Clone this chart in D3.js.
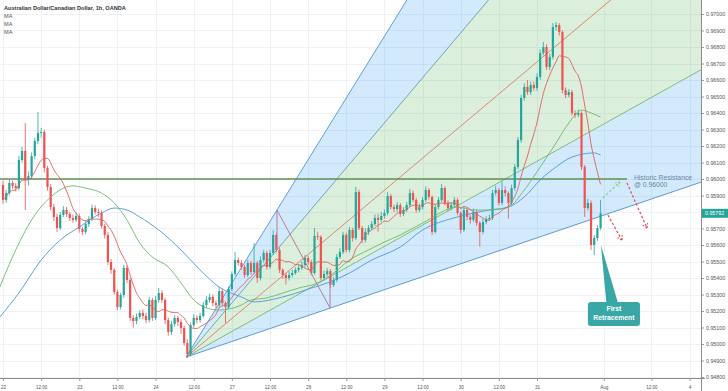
<!DOCTYPE html>
<html><head><meta charset="utf-8">
<script src="https://cdn.jsdelivr.net/npm/d3@7"></script>
<style>
html,body{margin:0;padding:0;background:#fff;}
svg{display:block;font-family:"Liberation Sans",Arial,sans-serif;}
</style></head><body>
<svg id="c" width="728" height="391"></svg>
<script>
// ---------- DATA ----------
const title = "Australian Dollar/Canadian Dollar, 1h, OANDA";
const legendItems = ["MA", "MA", "MA"];
const timeTickIdx = [0,12,24,36,48,60,72,84,96,108,120,132,144,156,168,189,204,216];
const timeTickLabels = ["22","12:00","23","12:00","24","12:00","27","12:00","28","12:00","29","12:00","30","12:00","31","Aug","12:00","4"];
const priceTicks = [0.948,0.949,0.950,0.951,0.952,0.953,0.954,0.955,0.956,0.957,0.958,0.959,0.960,0.961,0.962,0.963,0.964,0.965,0.966,0.967,0.968,0.969,0.970];
const firstOpen = 0.95964;
const close = [
0.95873,0.95915,0.95976,0.95958,0.95945,0.96115,0.96170,0.95994,0.96018,0.96139,
0.96230,0.96279,0.96285,0.96067,0.95952,0.95830,0.95770,0.95703,0.95782,0.95812,
0.95788,0.95764,0.95752,0.95776,0.95697,0.95679,0.95727,0.95758,0.95824,0.95800,
0.95794,0.95715,0.95661,0.95497,0.95449,0.95315,0.95224,0.95297,0.95461,0.95388,
0.95158,0.95139,0.95164,0.95188,0.95170,0.95145,0.95267,0.95158,0.95267,0.95309,
0.95267,0.95145,0.95073,0.95121,0.95158,0.95133,0.95097,0.95006,0.94940,0.95115,
0.95158,0.95145,0.95170,0.95236,0.95267,0.95285,0.95248,0.95236,0.95321,0.95248,
0.95224,0.95333,0.95424,0.95509,0.95491,0.95467,0.95418,0.95491,0.95436,0.95491,
0.95400,0.95509,0.95552,0.95467,0.95552,0.95661,0.95570,0.95449,0.95418,0.95400,
0.95418,0.95430,0.95449,0.95461,0.95479,0.95521,0.95497,0.95430,0.95655,0.95649,
0.95400,0.95424,0.95442,0.95358,0.95388,0.95527,0.95558,0.95661,0.95570,0.95691,
0.95642,0.95921,0.95703,0.95630,0.95679,0.95703,0.95727,0.95764,0.95752,0.95776,
0.95794,0.95897,0.95830,0.95818,0.95842,0.95788,0.95812,0.95842,0.95915,0.95873,
0.95812,0.95830,0.95873,0.95933,0.95891,0.95679,0.95830,0.95873,0.95945,0.95855,
0.95824,0.95842,0.95873,0.95794,0.95691,0.95812,0.95770,0.95752,0.95800,0.95733,
0.95679,0.95739,0.95758,0.95764,0.95915,0.95933,0.95855,0.95933,0.95915,0.95855,
0.95945,0.96073,0.96236,0.96491,0.96558,0.96527,0.96570,0.96551,0.96618,0.96764,
0.96800,0.96679,0.96739,0.96921,0.96933,0.96891,0.96539,0.96509,0.96527,0.96400,
0.96388,0.96400,0.96073,0.95824,0.95855,0.95600,0.95642,0.95703,0.95792
];
const high = [
0.95990,0.95935,0.95995,0.95990,0.95975,0.96140,0.96195,0.96339,0.96045,0.96160,
0.96250,0.96406,0.96310,0.96300,0.96080,0.95970,0.95850,0.95790,0.95800,0.95835,
0.95830,0.95800,0.95785,0.95795,0.95790,0.95710,0.95745,0.95775,0.95845,0.95840,
0.95820,0.95810,0.95730,0.95680,0.95515,0.95460,0.95330,0.95310,0.95480,0.95475,
0.95400,0.95175,0.95185,0.95205,0.95210,0.95190,0.95285,0.95280,0.95290,0.95340,
0.95325,0.95280,0.95160,0.95140,0.95175,0.95170,0.95150,0.95110,0.95030,0.95130,
0.95180,0.95175,0.95190,0.95255,0.95290,0.95305,0.95300,0.95265,0.95345,0.95335,
0.95260,0.95350,0.95440,0.95558,0.95525,0.95510,0.95480,0.95510,0.95505,0.95612,
0.95505,0.95530,0.95570,0.95565,0.95570,0.95690,0.95675,0.95585,0.95460,0.95430,
0.95440,0.95450,0.95465,0.95480,0.95500,0.95540,0.95535,0.95510,0.95703,0.95680,
0.95660,0.95445,0.95460,0.95455,0.95405,0.95545,0.95580,0.95680,0.95675,0.95710,
0.95705,0.95952,0.95935,0.95715,0.95700,0.95720,0.95745,0.95785,0.95790,0.95800,
0.95815,0.95920,0.95910,0.95845,0.95860,0.95855,0.95830,0.95860,0.95940,0.95930,
0.95885,0.95850,0.95890,0.95955,0.95945,0.95900,0.95845,0.95890,0.95970,0.95955,
0.95870,0.95860,0.95890,0.95885,0.95805,0.95830,0.95825,0.95785,0.95820,0.95815,
0.95745,0.95760,0.95775,0.95785,0.95935,0.95960,0.95945,0.95985,0.95955,0.95925,
0.95965,0.96090,0.96255,0.96510,0.96580,0.96600,0.96590,0.96590,0.96640,0.96785,
0.96830,0.96815,0.96760,0.96945,0.96952,0.96945,0.96900,0.96555,0.96545,0.96540,
0.96415,0.96420,0.96410,0.96085,0.95880,0.95870,0.95660,0.95720,0.95873
];
const low = [
0.95850,0.95855,0.95900,0.95940,0.95925,0.95930,0.96100,0.95812,0.95960,0.96000,
0.96120,0.96210,0.96250,0.96040,0.95930,0.95810,0.95745,0.95680,0.95690,0.95770,
0.95770,0.95745,0.95735,0.95740,0.95675,0.95660,0.95665,0.95710,0.95745,0.95785,
0.95770,0.95700,0.95640,0.95480,0.95425,0.95300,0.95205,0.95210,0.95280,0.95370,
0.95140,0.95100,0.95120,0.95150,0.95150,0.95125,0.95130,0.95140,0.95145,0.95250,
0.95250,0.95120,0.95050,0.95055,0.95105,0.95110,0.95060,0.94990,0.94915,0.94925,
0.95100,0.95125,0.95130,0.95160,0.95220,0.95250,0.95230,0.95215,0.95220,0.95230,
0.95127,0.95210,0.95320,0.95410,0.95475,0.95450,0.95400,0.95405,0.95420,0.95425,
0.95370,0.95385,0.95495,0.95450,0.95455,0.95540,0.95555,0.95430,0.95395,0.95360,
0.95385,0.95405,0.95420,0.95435,0.95450,0.95465,0.95480,0.95415,0.95420,0.95630,
0.95385,0.95385,0.95410,0.95340,0.95345,0.95375,0.95515,0.95545,0.95555,0.95555,
0.95620,0.95630,0.95690,0.95610,0.95615,0.95660,0.95690,0.95715,0.95680,0.95740,
0.95760,0.95780,0.95815,0.95800,0.95800,0.95770,0.95775,0.95800,0.95830,0.95860,
0.95795,0.95800,0.95815,0.95860,0.95875,0.95660,0.95670,0.95815,0.95860,0.95840,
0.95805,0.95810,0.95830,0.95780,0.95670,0.95680,0.95750,0.95730,0.95740,0.95715,
0.95590,0.95665,0.95725,0.95745,0.95750,0.95900,0.95840,0.95840,0.95895,0.95760,
0.95840,0.95930,0.96060,0.96220,0.96475,0.96510,0.96510,0.96535,0.96535,0.96600,
0.96750,0.96660,0.96660,0.96725,0.96900,0.96870,0.96520,0.96490,0.96495,0.96385,
0.96370,0.96375,0.96055,0.95770,0.95810,0.95570,0.95539,0.95625,0.95690
];
const maFastPeriod = 10;
const maMidIdx = [-1,4,9,15,20,22,26,31,35,39,43,47,52,56,60,64,68,75,78,83,88,93,99,104,109,115,120,125,132,143,148,153,159,164,169,174,178,182,185,188];
const maMidVal = [0.95345,0.95570,0.95752,0.95891,0.95952,0.95958,0.95945,0.95915,0.95855,0.95752,0.95612,0.95527,0.95467,0.95370,0.95267,0.95218,0.95206,0.95236,0.95267,0.95279,0.95309,0.95339,0.95370,0.95430,0.95509,0.95570,0.95618,0.95661,0.95733,0.95830,0.95812,0.95812,0.95830,0.95933,0.96073,0.96218,0.96339,0.96418,0.96400,0.96376];
const maSlowIdx = [-1,5,12,18,24,31,35,39,43,49,56,62,68,75,79,88,97,102,109,116,125,132,143,153,159,164,169,174,179,186,188];
const maSlowVal = [0.95164,0.95309,0.95509,0.95630,0.95709,0.95794,0.95824,0.95812,0.95770,0.95691,0.95570,0.95449,0.95345,0.95285,0.95255,0.95285,0.95339,0.95370,0.95430,0.95509,0.95588,0.95691,0.95770,0.95812,0.95830,0.95891,0.95994,0.96073,0.96133,0.96158,0.96145];
const fanOrigin = [57.6, 0.94921];
const fanAnchor = [86.2, 0.95812];
const fanRatios = [1, 0.73, 0.52, 0.345, 0.21];
const zigzagIdx = [86.2, 102.9];
const zigzagVal = [0.95812, 0.95218];
const resistancePrice = 0.96000;
const lastPrice = 0.95792;

// ---------- SCALES ----------
const svg = d3.select("#c");
const plotR = 701, plotB = 378;
const x = d3.scaleLinear().domain([0, 168]).range([3, 537]);
const y = d3.scaleLinear().domain([0.948, 0.970]).range([377, 14]);

svg.append("rect").attr("width",728).attr("height",391).attr("fill","#fff");
svg.append("defs").append("clipPath").attr("id","clip")
  .append("rect").attr("x",0).attr("y",0).attr("width",plotR).attr("height",plotB);

// grid
const grid = svg.append("g").attr("stroke","#eef1f5").attr("stroke-width",1);
grid.selectAll("line.h").data(priceTicks).enter().append("line")
  .attr("x1",0).attr("x2",plotR).attr("y1",d=>Math.round(y(d))+0.5).attr("y2",d=>Math.round(y(d))+0.5);
grid.selectAll("line.v").data(timeTickIdx).enter().append("line")
  .attr("y1",0).attr("y2",plotB).attr("x1",d=>Math.round(x(d))+0.5).attr("x2",d=>Math.round(x(d))+0.5);

const plot = svg.append("g").attr("clip-path","url(#clip)");

// fan
const iEnd = x.invert(plotR + 5);
const slope0 = (fanAnchor[1]-fanOrigin[1])/(fanAnchor[0]-fanOrigin[0]);
const fanEnd = r => [iEnd, fanOrigin[1] + r*slope0*(iEnd-fanOrigin[0])];
const pt = d => [x(d[0]), y(d[1])];
const fills = [[0,1,"#2196f3"],[1,3,"#4caf50"],[3,4,"#2196f3"]];
fills.forEach(f => {
  const a = fanEnd(fanRatios[f[0]]), b = fanEnd(fanRatios[f[1]]);
  plot.append("path").attr("d", "M"+[pt(fanOrigin),pt(a),pt(b)].map(p=>p.join(",")).join("L")+"Z")
    .attr("fill", f[2]).attr("fill-opacity", 0.2);
});
const fanColors = ["#5b9ee0","#6fa8b8","#d98a76","#7fbd7f","#5b9bd5"];
fanRatios.forEach((r,k) => {
  const e = fanEnd(r);
  plot.append("line").attr("x1",x(fanOrigin[0])).attr("y1",y(fanOrigin[1]))
    .attr("x2",x(e[0])).attr("y2",y(e[1])).attr("stroke",fanColors[k]).attr("stroke-width",1);
});

// resistance line
plot.append("line").attr("x1",0).attr("x2",x(196.3))
  .attr("y1",y(resistancePrice)).attr("y2",y(resistancePrice))
  .attr("stroke","#5e9150").attr("stroke-width",1.5);

// candles
const bars = close.map((c,i)=>({i, o: i? close[i-1] : firstOpen, c, h: high[i], l: low[i]}));
const up = "#26a69a", dn = "#ef5350";
const cg = plot.append("g");
cg.selectAll("line").data(bars).enter().append("line")
  .attr("x1",d=>x(d.i)).attr("x2",d=>x(d.i)).attr("y1",d=>y(d.h)).attr("y2",d=>y(d.l))
  .attr("stroke",d=>d.c>=d.o?up:dn).attr("stroke-width",0.8);
cg.selectAll("rect").data(bars).enter().append("rect")
  .attr("x",d=>x(d.i)-1.1).attr("width",2.2)
  .attr("y",d=>y(Math.max(d.o,d.c)))
  .attr("height",d=>Math.max(0.8, Math.abs(y(d.o)-y(d.c))))
  .attr("fill",d=>d.c>=d.o?up:dn);

// moving averages
const fast = close.map((c,i)=>{
  const s = close.slice(Math.max(0,i-maFastPeriod+1), i+1);
  return [i, d3.mean(s)];
});
const line = d3.line().x(d=>x(d[0])).y(d=>y(d[1])).curve(d3.curveMonotoneX);
plot.append("path").attr("d", line(maSlowIdx.map((d,k)=>[d,maSlowVal[k]])))
  .attr("fill","none").attr("stroke","#4f95d8").attr("stroke-width",0.9);
plot.append("path").attr("d", line(maMidIdx.map((d,k)=>[d,maMidVal[k]])))
  .attr("fill","none").attr("stroke","#6cb86c").attr("stroke-width",0.9);
plot.append("path").attr("d", line(fast))
  .attr("fill","none").attr("stroke","#e0605a").attr("stroke-width",0.9);

// zigzag drawing
const zz = plot.append("g").attr("stroke","#b87aa0").attr("stroke-width",1).attr("fill","none");
zz.append("path").attr("d", d3.line()([[x(zigzagIdx[0]),y(zigzagVal[0])],[x(zigzagIdx[1]),y(zigzagVal[1])]]));
zz.append("line").attr("x1",x(zigzagIdx[0])).attr("x2",x(zigzagIdx[0])).attr("y1",y(zigzagVal[0])).attr("y2",y(0.9557));
zz.append("line").attr("x1",x(zigzagIdx[1])).attr("x2",x(zigzagIdx[1])).attr("y1",y(zigzagVal[1])).attr("y2",y(0.9538));

// dashed arrows
function arrow(p0, p1, color){
  const a = [x(p0[0]),y(p0[1])], b = [x(p1[0]),y(p1[1])];
  const g = svg.append("g").attr("stroke",color).attr("stroke-width",1.2).attr("fill","none");
  g.append("line").attr("x1",a[0]).attr("y1",a[1]).attr("x2",b[0]).attr("y2",b[1]).attr("stroke-dasharray","2.5,2");
  const ang = Math.atan2(a[1]-b[1], a[0]-b[0]);
  [0.55,-0.55].forEach(t=>{
    g.append("line").attr("x1",b[0]).attr("y1",b[1])
      .attr("x2",b[0]+5*Math.cos(ang+t)).attr("y2",b[1]+5*Math.sin(ang+t)).attr("stroke-dasharray","2,1.5");
  });
}
arrow([188.7,0.95885],[194.1,0.95982],"#8fcc8f");
arrow([190.3,0.95782],[194.7,0.95630],"#e64a5a");
arrow([196.3,0.95976],[202.6,0.95703],"#e64a5a");

// resistance text
const rt = svg.append("g").attr("fill","#6a86a3").style("font-size","6.8px");
rt.append("text").attr("x",x(198.5)).attr("y",y(0.95994)).text("Historic Resistance");
rt.append("text").attr("x",x(198.5)).attr("y",y(0.95953)).text("@ 0.96000");

// callout
const cc = "#3aa7a7";
svg.append("path").attr("d", d3.line()([[x(188.1),y(0.95600)],[x(189.8),y(0.95255)],[x(193.4),y(0.95255)]])+"Z").attr("fill",cc);
svg.append("rect").attr("x",x(184)).attr("y",y(0.95255)).attr("width",x(200.4)-x(184))
  .attr("height",y(0.95109)-y(0.95255)).attr("rx",3).attr("fill",cc);
const ct = svg.append("g").attr("fill","#fff").attr("text-anchor","middle").style("font-size","6.8px").style("font-weight","bold");
ct.append("text").attr("x",x(192.2)).attr("y",y(0.95200)).text("First");
ct.append("text").attr("x",x(192.2)).attr("y",y(0.95143)).text("Retracement");

// axes
const yAxis = d3.axisRight(y).tickValues(priceTicks).tickFormat(d3.format(".5f")).tickSize(3).tickPadding(2);
const ya = svg.append("g").attr("transform",`translate(${plotR},0)`).call(yAxis);
ya.select(".domain").remove();
ya.selectAll("line").attr("stroke","#9a9a9a");
ya.selectAll("text").attr("fill","#555").style("font-size","5.3px").style("font-family","Liberation Sans, Arial, sans-serif");
const xAxis = d3.axisBottom(x).tickValues(timeTickIdx).tickFormat((d,k)=>timeTickLabels[k]).tickSize(3).tickPadding(5);
const xa = svg.append("g").attr("transform",`translate(0,${plotB})`).call(xAxis);
xa.select(".domain").remove();
xa.selectAll("line").attr("stroke","#9a9a9a");
xa.selectAll("text").attr("fill","#555").style("font-size","4.6px").style("font-family","Liberation Sans, Arial, sans-serif");
svg.append("line").attr("x1",plotR+0.5).attr("x2",plotR+0.5).attr("y1",0).attr("y2",391).attr("stroke","#8c8c8c");
svg.append("line").attr("x1",0).attr("x2",plotR+4).attr("y1",plotB+0.5).attr("y2",plotB+0.5).attr("stroke","#8c8c8c");

// last price label
svg.append("rect").attr("x",plotR+1).attr("y",y(lastPrice)-4.5).attr("width",27).attr("height",9).attr("fill","#26a69a");
svg.append("text").attr("x",plotR+4).attr("y",y(lastPrice)+2).attr("fill","#fff").style("font-size","5.3px").text(d3.format(".5f")(lastPrice));

// title & legend
svg.append("text").attr("x",4).attr("y",9.5).attr("fill","#333").style("font-size","5.6px").style("font-weight","bold").text(title);
svg.selectAll("text.lg").data(legendItems).enter().append("text")
  .attr("x",4).attr("y",(d,k)=>17.5+k*8.3).attr("fill","#555").style("font-size","5.6px").text(d=>d);
</script>
</body></html>
